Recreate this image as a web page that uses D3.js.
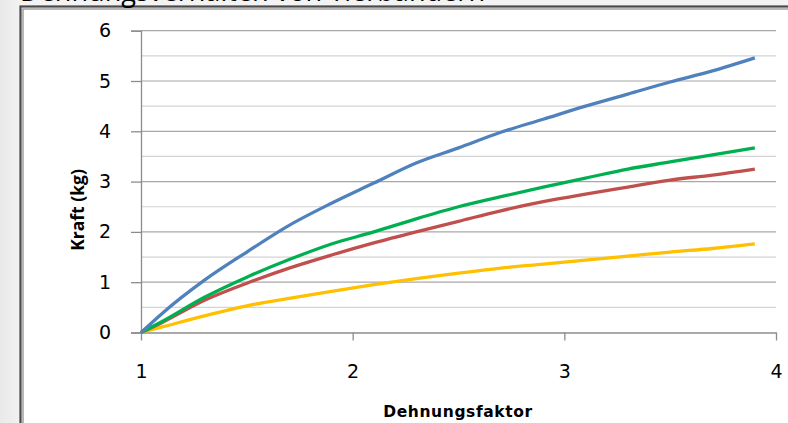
<!DOCTYPE html>
<html>
<head>
<meta charset="utf-8">
<script src="https://cdn.jsdelivr.net/npm/d3@7/dist/d3.min.js"></script>
<style>
  html, body { margin: 0; padding: 0; background: #f0f0f0; }
  svg { display: block; }
</style>
</head>
<body>
<svg id="chart" width="788" height="423"></svg>
<script>
// Dehnungsfaktor (x) and Kraft in kg for four tendon samples
const dehnung = [1, 1.1, 1.3, 1.5, 1.7, 1.9, 2.1, 2.3, 2.5, 2.7, 2.9, 3.1, 3.3, 3.5, 3.7, 3.9];
const kraftBlau = [0, 0.38, 1.04, 1.6, 2.13, 2.57, 2.97, 3.37, 3.67, 3.98, 4.24, 4.5, 4.74, 4.98, 5.2, 5.46];
const kraftRot = [0, 0.2, 0.64, 0.98, 1.28, 1.54, 1.78, 2.0, 2.21, 2.42, 2.6, 2.75, 2.89, 3.03, 3.13, 3.25];
const kraftGruen = [0, 0.22, 0.7, 1.1, 1.45, 1.76, 2.0, 2.26, 2.5, 2.7, 2.89, 3.07, 3.25, 3.39, 3.53, 3.67];
const kraftGelb = [0, 0.11, 0.33, 0.53, 0.68, 0.82, 0.95, 1.07, 1.18, 1.28, 1.36, 1.44, 1.52, 1.6, 1.67, 1.76];
const xTicks = [1, 2, 3, 4];
const yTicks = [0, 1, 2, 3, 4, 5, 6];
const yMinor = [0.5, 1.5, 2.5, 3.5, 4.5, 5.5];

const series = [
  { values: kraftGelb, color: "#FFC000" },
  { values: kraftRot, color: "#C0504D" },
  { values: kraftGruen, color: "#00B050" },
  { values: kraftBlau, color: "#4F81BD" }
];

const svg = d3.select("#chart");

// slide background and chart frame
const defs = svg.append("defs");
const grad = defs.append("linearGradient").attr("id", "bg").attr("x1", 0).attr("x2", 1).attr("y1", 0).attr("y2", 0);
grad.append("stop").attr("offset", "0%").attr("stop-color", "#e9e9e9");
grad.append("stop").attr("offset", "3%").attr("stop-color", "#f3f3f3");
svg.append("rect").attr("width", 788).attr("height", 423).attr("fill", "url(#bg)");
svg.append("rect").attr("x", 22).attr("y", 8).attr("width", 800).attr("height", 450).attr("fill", "#ffffff");
svg.append("rect").attr("x", 20.5).attr("y", 6.5).attr("width", 820).attr("height", 460)
  .attr("fill", "none").attr("stroke", "#4a4a4a").attr("stroke-width", 2.2);
svg.append("rect").attr("x", 23).attr("y", 9).attr("width", 820).attr("height", 460)
  .attr("fill", "none").attr("stroke", "#9a9a9a").attr("stroke-width", 1.4);

// slide title, running off the top edge
svg.append("text")
  .attr("x", 20).attr("y", 1)
  .attr("font-family", "'Open Sans', sans-serif")
  .attr("font-size", 29)
  .attr("fill", "#000")
  .attr("textLength", 465)
  .attr("lengthAdjust", "spacingAndGlyphs")
  .text("Dehnungsverhalten von Tierbändern");

const x = d3.scaleLinear().domain([1, 4]).range([141, 776]);
const y = d3.scaleLinear().domain([0, 6]).range([332.5, 30.7]);

// gridlines
svg.append("g").selectAll("line").data(yMinor).join("line")
  .attr("x1", x(1)).attr("x2", x(4))
  .attr("y1", d => y(d)).attr("y2", d => y(d))
  .attr("stroke", "#d4d4d4").attr("stroke-width", 1.2);
svg.append("g").selectAll("line").data(yTicks.slice(1)).join("line")
  .attr("x1", x(1)).attr("x2", x(4))
  .attr("y1", d => y(d)).attr("y2", d => y(d))
  .attr("stroke", "#a8a8a8").attr("stroke-width", 1.2);

// y axis
const yAxis = svg.append("g")
  .attr("transform", `translate(${x(1)},0)`)
  .call(d3.axisLeft(y).tickValues(yTicks).tickFormat(d3.format("d")).tickSize(10).tickPadding(20));
yAxis.select(".domain").attr("stroke", "#8c8c8c").attr("stroke-width", 1.3);
yAxis.selectAll(".tick line").attr("stroke", "#8c8c8c").attr("stroke-width", 1.3);
yAxis.selectAll(".tick text")
  .attr("font-family", "'DejaVu Sans', sans-serif")
  .attr("font-size", 19).attr("fill", "#000");

// x axis
const xAxis = svg.append("g")
  .attr("transform", `translate(0,${y(0)})`)
  .call(d3.axisBottom(x).tickValues(xTicks).tickFormat(d3.format("d")).tickSize(8).tickPadding(24).tickSizeOuter(0));
xAxis.select(".domain").attr("stroke", "#8c8c8c").attr("stroke-width", 1.3);
xAxis.selectAll(".tick line").attr("stroke", "#8c8c8c").attr("stroke-width", 1.3);
xAxis.selectAll(".tick text")
  .attr("font-family", "'DejaVu Sans', sans-serif")
  .attr("font-size", 19).attr("fill", "#000");

// curves
const line = d3.line()
  .x((d, i) => x(dehnung[i]))
  .y(d => y(d))
  .curve(d3.curveMonotoneX);
svg.append("g").selectAll("path").data(series).join("path")
  .attr("d", s => line(s.values))
  .attr("fill", "none")
  .attr("stroke", s => s.color)
  .attr("stroke-width", 3.3)
  .attr("stroke-linejoin", "round");

// axis titles
svg.append("text")
  .attr("transform", "translate(84,210) rotate(-90)")
  .attr("text-anchor", "middle")
  .attr("font-family", "'Open Sans', sans-serif")
  .attr("font-weight", "bold")
  .attr("font-size", 17.5)
  .attr("fill", "#000")
  .text("Kraft (kg)");
svg.append("text")
  .attr("x", 458).attr("y", 417)
  .attr("text-anchor", "middle")
  .attr("font-family", "'DejaVu Sans', sans-serif")
  .attr("font-weight", "bold")
  .attr("font-size", 15.5)
  .attr("letter-spacing", 0.6)
  .attr("fill", "#000")
  .text("Dehnungsfaktor");
</script>
</body>
</html>
